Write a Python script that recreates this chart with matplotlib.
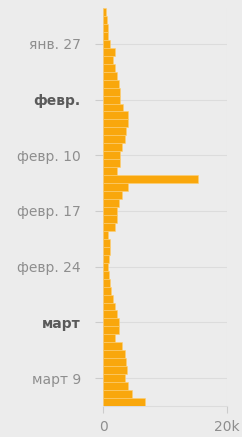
import matplotlib
matplotlib.use("Agg")
import matplotlib.pyplot as plt

values = [500, 700, 850, 870, 1100, 1950, 1650, 1950, 2200, 2500,
          2700, 2700, 3300, 4100, 4100, 3700, 3500, 3000, 2800, 2700,
          2200, 15400, 4100, 3000, 2500, 2200, 2200, 1950, 850, 1100,
          1200, 1000, 850, 900, 1100, 1350, 1650, 1950, 2200, 2500,
          2500, 1950, 3000, 3500, 3700, 3800, 3500, 4100, 4600, 6800]
tick_positions = [4, 11, 18, 25, 32, 39, 46]
tick_labels = ["янв. 27", "февр.", "февр. 10", "февр. 17", "февр. 24", "март", "март 9"]
bold_labels = {"февр.", "март"}
x_ticks = [0, 20000]
x_tick_labels = ["0", "20k"]

bg = "#ececec"
fig = plt.figure(figsize=(2.42, 4.37), dpi=100, facecolor=bg)
ax = fig.add_axes([103/242, 1-406/437, 124/242, 398/437])
ax.set_facecolor(bg)

idx = list(range(len(values)))
ax.barh(idx, values, height=1.0, color="#f9a70c", edgecolor="#fdcf75", linewidth=0.4, zorder=3)

ax.set_ylim(len(values) - 0.5, -0.5)
ax.set_xlim(0, 20000)

ax.set_yticks(tick_positions)
ax.set_yticklabels(tick_labels)
for t in ax.get_yticklabels():
    if t.get_text() in bold_labels:
        t.set_fontweight("bold")
        t.set_color("#5a5a5a")
    else:
        t.set_color("#8e8e8e")
    t.set_fontsize(10)
ax.set_xticks(x_ticks)
ax.set_xticklabels(x_tick_labels, fontsize=10, color="#8e8e8e")

ax.tick_params(axis="y", length=6, color="#cccccc", pad=10)
ax.tick_params(axis="x", length=5, color="#cccccc", pad=5)

ax.grid(True, axis="both", color="#dcdcdc", linewidth=0.8, zorder=0)
for s in ["top", "right", "left"]:
    ax.spines[s].set_visible(False)
ax.spines["bottom"].set_color("#dcdcdc")

fig.savefig("out.png", dpi=100, facecolor=bg)
